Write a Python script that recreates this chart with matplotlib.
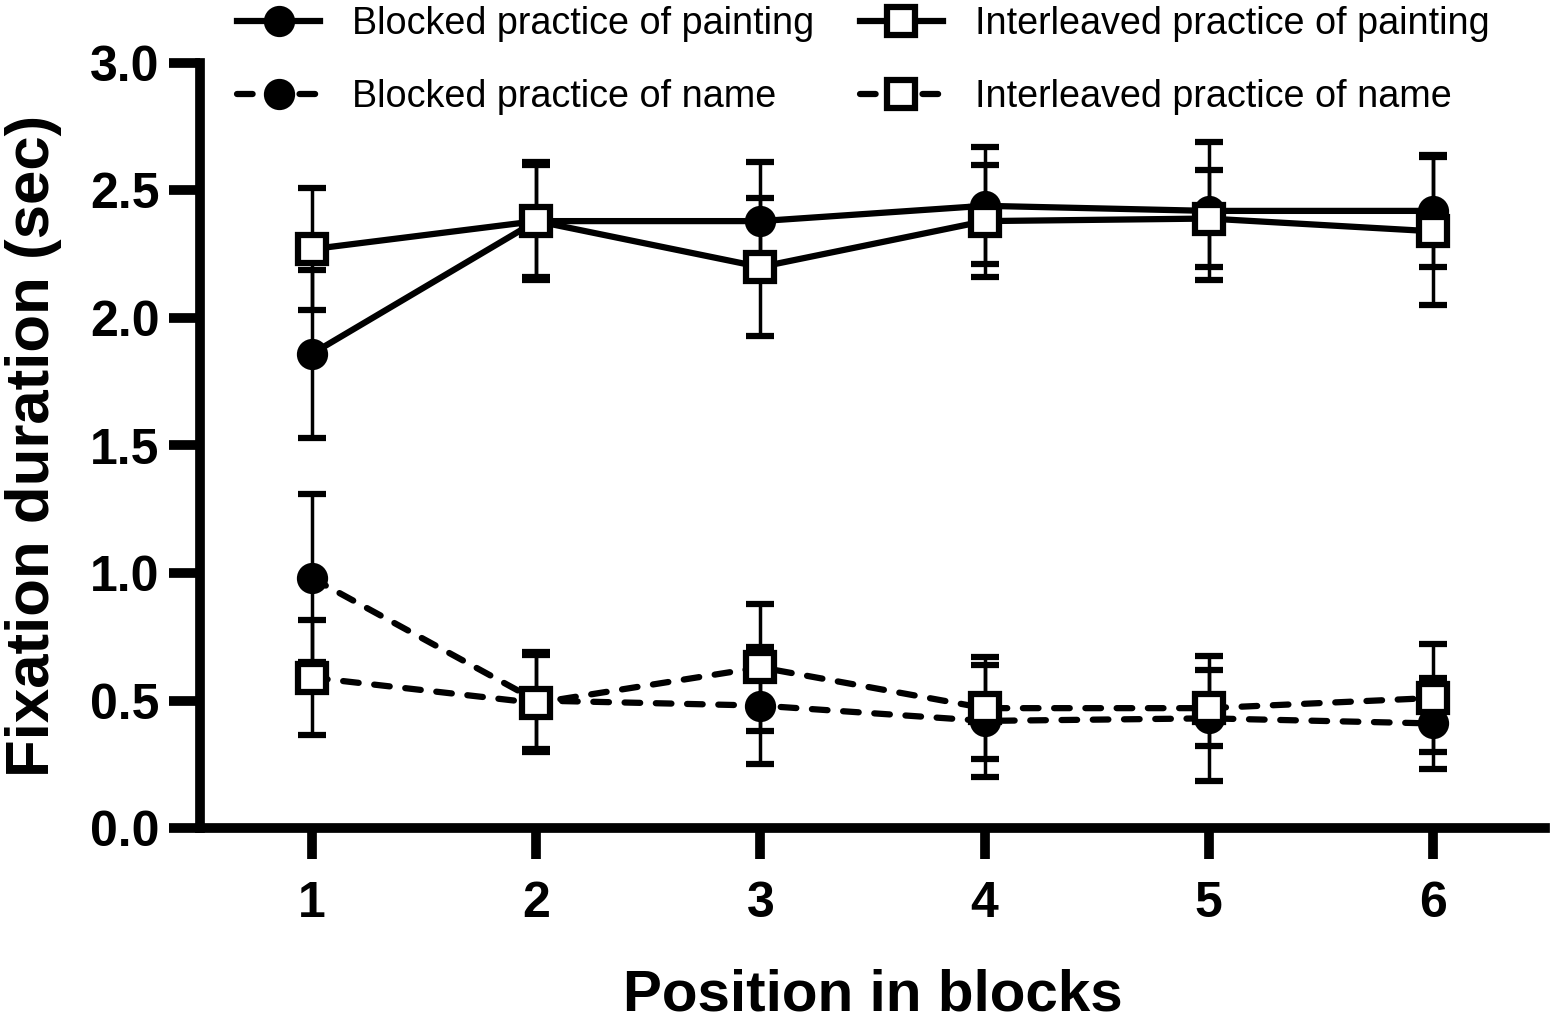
import matplotlib
matplotlib.use("Agg")
import matplotlib.pyplot as plt

plt.rcParams['font.family'] = ['Liberation Sans', 'DejaVu Sans']

positions = [1, 2, 3, 4, 5, 6]
tick_labels = ["1", "2", "3", "4", "5", "6"]

blocked_painting = [1.86, 2.38, 2.38, 2.44, 2.42, 2.42]
blocked_painting_err = [0.33, 0.23, 0.23, 0.23, 0.27, 0.22]
interleaved_painting = [2.27, 2.38, 2.20, 2.38, 2.39, 2.34]
interleaved_painting_err = [0.24, 0.22, 0.27, 0.22, 0.19, 0.29]
blocked_name = [0.98, 0.50, 0.48, 0.42, 0.43, 0.41]
blocked_name_err = [0.33, 0.19, 0.23, 0.22, 0.245, 0.18]
interleaved_name = [0.59, 0.49, 0.63, 0.47, 0.47, 0.51]
interleaved_name_err = [0.225, 0.19, 0.25, 0.20, 0.15, 0.21]

fig = plt.figure(figsize=(15.59, 10.21), dpi=100)
ax = fig.add_axes([200 / 1559, 1 - 828 / 1021, 1345 / 1559, 765 / 1021])

common = dict(color='black', lw=4.5, elinewidth=2.5, capsize=10, capthick=2.5,
              markeredgewidth=4.5, markeredgecolor='black')


def draw(values, errs, marker, filled, dashed, label):
    face = 'black' if filled else 'white'
    size = 18 if marker == 'o' else 20
    eb = ax.errorbar(positions, values, yerr=errs, fmt=marker, markerfacecolor=face,
                     markersize=size, label=label, linestyle='--' if dashed else '-', **common)
    line = eb.lines[0]
    if dashed:
        line.set_dashes((2.5, 2.5))
        line.set_dash_capstyle('round')
    return eb


h1 = draw(blocked_painting, blocked_painting_err, 'o', True, False, "Blocked practice of painting")
h2 = draw(interleaved_painting, interleaved_painting_err, 's', False, False, "Interleaved practice of painting")
h3 = draw(blocked_name, blocked_name_err, 'o', True, True, "Blocked practice of name")
h4 = draw(interleaved_name, interleaved_name_err, 's', False, True, "Interleaved practice of name")

ax.set_xlim(0.5, 6.5)
ax.set_ylim(0, 3.0)
ax.set_xticks(positions)
ax.set_xticklabels(tick_labels)
ax.set_yticks([0, 0.5, 1.0, 1.5, 2.0, 2.5, 3.0])
ax.set_yticklabels(["0.0", "0.5", "1.0", "1.5", "2.0", "2.5", "3.0"])

for side in ['top', 'right']:
    ax.spines[side].set_visible(False)
for side in ['left', 'bottom']:
    ax.spines[side].set_linewidth(7)
ax.tick_params(axis='both', length=22, width=7, labelsize=36)
ax.tick_params(axis='y', pad=7)
ax.tick_params(axis='x', pad=16)
for lbl in ax.get_xticklabels() + ax.get_yticklabels():
    lbl.set_fontweight('bold')

ax.set_xlabel("Position in blocks", fontsize=42, fontweight='bold', labelpad=30)
ax.set_ylabel("Fixation duration (sec)", fontsize=44.5, fontweight='bold', labelpad=20)

handles = [h1[0], h3[0], h2[0], h4[0]]
labels = [h1.get_label(), h3.get_label(), h2.get_label(), h4.get_label()]
leg = fig.legend(handles, labels, loc='upper left', bbox_to_anchor=(237 / 1559, 1 - 6 / 1021),
                 ncol=2, frameon=False, fontsize=27.2, handlelength=2.2, handletextpad=0.85,
                 columnspacing=1.2, labelspacing=0.98, borderpad=0, borderaxespad=0)

fig.savefig("out.png", dpi=100)
